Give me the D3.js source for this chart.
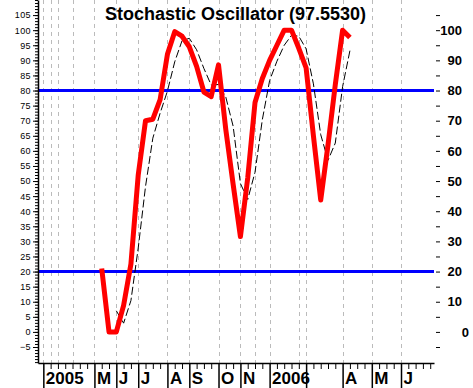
<!DOCTYPE html>
<html>
<head>
<meta charset="utf-8">
<script src="https://cdn.jsdelivr.net/npm/d3@7"></script>
<style>
  body { margin: 0; background: #fff; }
  svg { display: block; font-family: "Liberation Sans", Arial, sans-serif; }
</style>
</head>
<body>
<div id="chart"></div>
<script>
// chart size
var width = 473;
var height = 388;

// x is counted in weeks from the first 2005 tick
var kStart = 8;   // first week of %K
var kValues = [21, 0, 0, 8.8, 22.5, 52, 70, 70.5, 77, 92, 99.5, 98, 94.5, 88, 79.5, 78, 88.5,
               67, 49, 31.6, 51, 76, 84, 90, 95, 100, 100, 94, 87.5, 65, 43.7, 62, 82, 100, 97.55];
var dStart = 10;  // first week of %D
var dValues = [7.0, 2.9, 10.4, 27.8, 48.2, 64.2, 72.5, 79.8, 89.5, 96.5, 97.3, 93.5, 87.3, 81.8,
               82, 77.8, 68.2, 49.2, 43.9, 52.9, 70.3, 83.3, 89.7, 95, 98.3, 98, 93.8, 82.2,
               65.4, 56.9, 62.6, 81.3, 93.2];

var monthTicks = [0, 7, 10, 13, 17, 20, 24, 27, 31, 36, 41, 45, 49];
var monthLabels = ["2005", "M", "J", "J", "A", "S", "O", "N", "2006", "", "A", "M", "J"];
var gridWeeks = [0, 1, 2, 4, 7, 10, 13, 17, 20, 24, 27, 29, 31, 35, 36, 41, 45, 49];
var levels = [20, 80];
var title = "Stochastic Oscillator (97.5530)";

var left = 38, right = 434, bottom = 363;

var x = d3.scaleLinear().domain([-0.73, 53.52]).range([left, right]);
var y = d3.scaleLinear().domain([-10.3, 110]).range([bottom, 0]);

var svg = d3.select("#chart")
  .append("svg")
  .attr("width", width)
  .attr("height", height);

// vertical dashed grid
svg.selectAll("line.grid")
  .data(gridWeeks)
  .enter()
  .append("line")
    .attr("class", "grid")
    .attr("x1", function(d) { return Math.round(x(d)) + 0.5; })
    .attr("x2", function(d) { return Math.round(x(d)) + 0.5; })
    .attr("y1", 0)
    .attr("y2", bottom)
    .style("stroke", "#bbbbbb")
    .style("stroke-dasharray", "4,4");

// 20 / 80 levels
svg.selectAll("line.level")
  .data(levels)
  .enter()
  .append("line")
    .attr("class", "level")
    .attr("x1", left)
    .attr("x2", right)
    .attr("y1", function(d) { return y(d); })
    .attr("y2", function(d) { return y(d); })
    .style("stroke", "#0000ff")
    .style("stroke-width", 3);

// %D dashed
var line = d3.line()
  .x(function(d) { return x(d.w); })
  .y(function(d) { return y(d.v); });

var dData = dValues.map(function(v, i) { return {w: dStart + i, v: v}; });
var kData = kValues.map(function(v, i) { return {w: kStart + i, v: v}; });

svg.append("path")
  .datum(dData)
  .attr("d", line)
  .style("fill", "none")
  .style("stroke", "black")
  .style("stroke-width", 1)
  .style("stroke-dasharray", "8,3");

// %K red
svg.append("path")
  .datum(kData)
  .attr("d", line)
  .style("fill", "none")
  .style("stroke", "#ff0000")
  .style("stroke-width", 5)
  .style("stroke-linejoin", "round");

// left axis: small ticks every unit, labels every 5
var leftMinor = svg.append("g")
  .attr("transform", "translate(" + left + ",0)")
  .call(d3.axisLeft(y).tickValues(d3.range(-10, 111)).tickSize(3).tickSizeOuter(0).tickFormat(""));
leftMinor.select(".domain").style("stroke-width", 1.5);

var leftMajor = svg.append("g")
  .attr("transform", "translate(" + left + ",0)")
  .call(d3.axisLeft(y).tickValues(d3.range(-5, 106, 5)).tickSize(5).tickPadding(2).tickSizeOuter(0));
leftMajor.select(".domain").remove();
leftMajor.selectAll("text")
  .style("font-size", "9px")
  .style("letter-spacing", "0.4px")
  .style("fill", "black");

// right axis
var rightAxis = svg.append("g")
  .attr("transform", "translate(" + (right + 2) + ",0)")
  .call(d3.axisRight(y).tickValues(d3.range(-5, 106, 5)).tickSize(4).tickSizeOuter(0)
    .tickFormat(function(d) { return d % 10 == 0 ? d : ""; }));
rightAxis.select(".domain").remove();
rightAxis.selectAll("text")
  .attr("x", function(d) { return d < 10 ? 33 : 26; })
  .style("text-anchor", "end")
  .style("font-size", "13px")
  .style("font-weight", "bold")
  .style("fill", "black");

// bottom axis: weekly small ticks, month ticks long with labels
var weekTicks = d3.range(0, 54).filter(function(w) { return monthTicks.indexOf(w) < 0; });
var botMinor = svg.append("g")
  .attr("transform", "translate(0," + bottom + ")")
  .call(d3.axisBottom(x).tickValues(weekTicks).tickSize(6).tickSizeOuter(0).tickFormat(""));
botMinor.select(".domain").style("stroke-width", 1.5);

var botMajor = svg.append("g")
  .attr("transform", "translate(0," + bottom + ")")
  .call(d3.axisBottom(x).tickValues(monthTicks).tickSize(25).tickSizeOuter(0)
    .tickFormat(function(d, i) { return monthLabels[i]; }));
botMajor.select(".domain").remove();
botMajor.selectAll("line").style("stroke-width", 1.5);
botMajor.selectAll("text")
  .attr("x", 2)
  .attr("y", 21)
  .attr("dy", 0)
  .style("text-anchor", "start")
  .style("font-size", "17px")
  .style("font-weight", "bold")
  .style("fill", "black");

svg.selectAll(".tick line").style("stroke", "black");

// title
svg.append("text")
  .attr("x", 105)
  .attr("y", 19.5)
  .style("font-size", "18px")
  .style("font-weight", "bold")
  .text(title);
</script>
</body>
</html>
